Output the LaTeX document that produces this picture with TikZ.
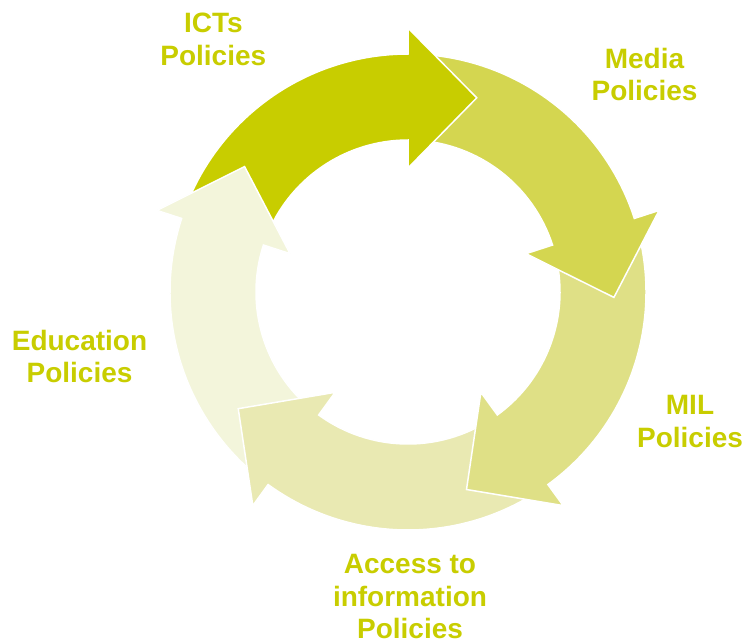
\documentclass[tikz,border=0pt]{standalone}
\usepackage{fontspec}
\setmainfont{Liberation Sans}
\definecolor{cICT}{RGB}{200,205,0}
\definecolor{cMedia}{RGB}{212,214,80}
\definecolor{cMIL}{RGB}{223,224,134}
\definecolor{cAccess}{RGB}{233,233,178}
\definecolor{cEdu}{RGB}{243,245,219}
\definecolor{txt}{RGB}{200,205,0}
\tikzset{
  lbl/.style={font=\fontsize{28}{32.5}\selectfont\bfseries, text=txt, align=center, inner sep=0pt, anchor=base},
  arrowshape/.style={draw=white, line width=1.5pt, line join=miter}
}
\newcommand\cyclearrow[2]{%
  \filldraw[arrowshape, fill=#2] ({#1+69}:238pt) arc[start angle={#1+69}, end angle={#1}, radius=238pt]
    -- (#1:264pt) -- ({#1-19.5}:206pt) -- (#1:124pt) -- (#1:152pt)
    arc[start angle={#1}, end angle={#1+69}, radius=152pt] -- cycle;}
\begin{document}
\begin{tikzpicture}
\useasboundingbox (0pt,0pt) rectangle (745pt,-643pt);
\coordinate (ctr) at (408pt,-292pt);
\begin{scope}[shift={(ctr)}]
  \cyclearrow{-198}{cEdu}
  \cyclearrow{-126}{cAccess}
  \cyclearrow{-54}{cMIL}
  \cyclearrow{18}{cMedia}
  \cyclearrow{90}{cICT}
  \begin{scope}
    \clip (0pt,0pt) rectangle (-300pt,300pt);
    \cyclearrow{-198}{cEdu}
  \end{scope}
\end{scope}
\node[lbl] (ict) at (213.3pt,-65pt) {ICTs\\Policies};
\node[lbl] (media) at (644.5pt,-100.7pt) {Media\\Policies};
\node[lbl] (mil) at (690pt,-447.3pt) {MIL\\Policies};
\node[lbl] (access) at (410pt,-638.5pt) {Access to\\information\\Policies};
\node[lbl] (edu) at (79.5pt,-382.7pt) {Education\\Policies};
\end{tikzpicture}
\end{document}
